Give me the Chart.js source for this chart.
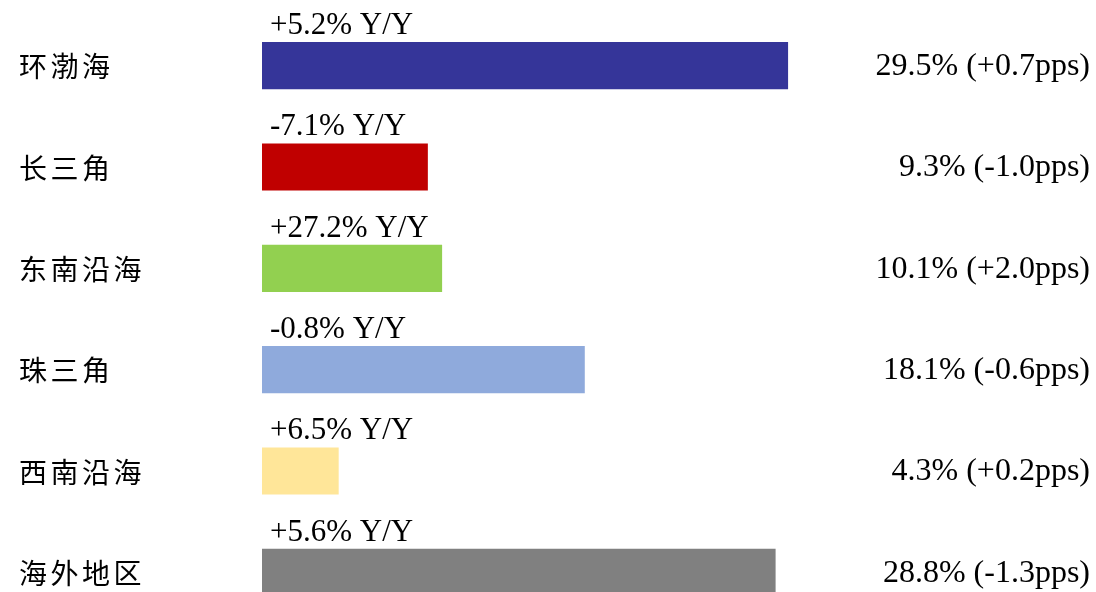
<!DOCTYPE html>
<html>
<head>
<meta charset="utf-8">
<script src="https://cdn.jsdelivr.net/npm/chart.js@4"></script>
<style>
  html, body { margin: 0; padding: 0; background: #fff; overflow: hidden; }
  #wrap { width: 1096px; height: 640px; position: relative; }
</style>
</head>
<body>
<div id="wrap"><canvas id="chart"></canvas></div>
<script>
const regions = ['环渤海', '长三角', '东南沿海', '珠三角', '西南沿海', '海外地区'];
const shares = [29.5, 9.3, 10.1, 18.1, 4.3, 28.8];
const yoyLabels = ['+5.2% Y/Y', '-7.1% Y/Y', '+27.2% Y/Y', '-0.8% Y/Y', '+6.5% Y/Y', '+5.6% Y/Y'];
const ppsLabels = ['(+0.7pps)', '(-1.0pps)', '(+2.0pps)', '(-0.6pps)', '(+0.2pps)', '(-1.3pps)'];
const barColors = ['#353599', '#C00000', '#92D050', '#8FAADC', '#FFE699', '#808080'];

const serif = '"Liberation Serif", "Times New Roman", serif';
const cjk = '"Noto Sans CJK SC", sans-serif';

// draws region names, Y/Y text above bars and share text on the right
const labelPlugin = {
  id: 'labels',
  afterDatasetsDraw(chart) {
    const { ctx, scales: { x, y } } = chart;
    const x0 = x.getPixelForValue(0);
    const meta = chart.getDatasetMeta(0);
    ctx.save();
    ctx.fillStyle = '#000';
    regions.forEach((name, i) => {
      const cy = y.getPixelForValue(i);
      const bar = meta.data[i];
      const top = cy - bar.height / 2;

      ctx.font = '28px ' + cjk;
      ctx.letterSpacing = '3.5px';
      ctx.textAlign = 'left';
      ctx.textBaseline = 'middle';
      ctx.fillText(name, 19, cy + 1);
      ctx.letterSpacing = '0px';

      ctx.font = '31px ' + serif;
      ctx.textBaseline = 'alphabetic';
      ctx.fillText(yoyLabels[i], x0 + 8, top - 8);

      ctx.font = '32px ' + serif;
      ctx.textAlign = 'right';
      ctx.textBaseline = 'middle';
      ctx.fillText(shares[i].toFixed(1) + '% ' + ppsLabels[i], 1090, cy + 1);
    });
    ctx.restore();
  }
};

new Chart(document.getElementById('chart'), {
  type: 'bar',
  data: {
    labels: regions,
    datasets: [{
      data: shares,
      backgroundColor: barColors,
      borderWidth: 0,
      categoryPercentage: 1,
      barPercentage: 0.465
    }]
  },
  options: {
    indexAxis: 'y',
    responsive: true,
    maintainAspectRatio: false,
    animation: false,
    layout: { padding: { left: 262, right: 299, top: 15, bottom: 17 } },
    plugins: { legend: { display: false }, tooltip: { enabled: false } },
    scales: {
      x: { display: false, min: 0, max: 30 },
      y: { display: false }
    }
  },
  plugins: [labelPlugin]
});
</script>
</body>
</html>
